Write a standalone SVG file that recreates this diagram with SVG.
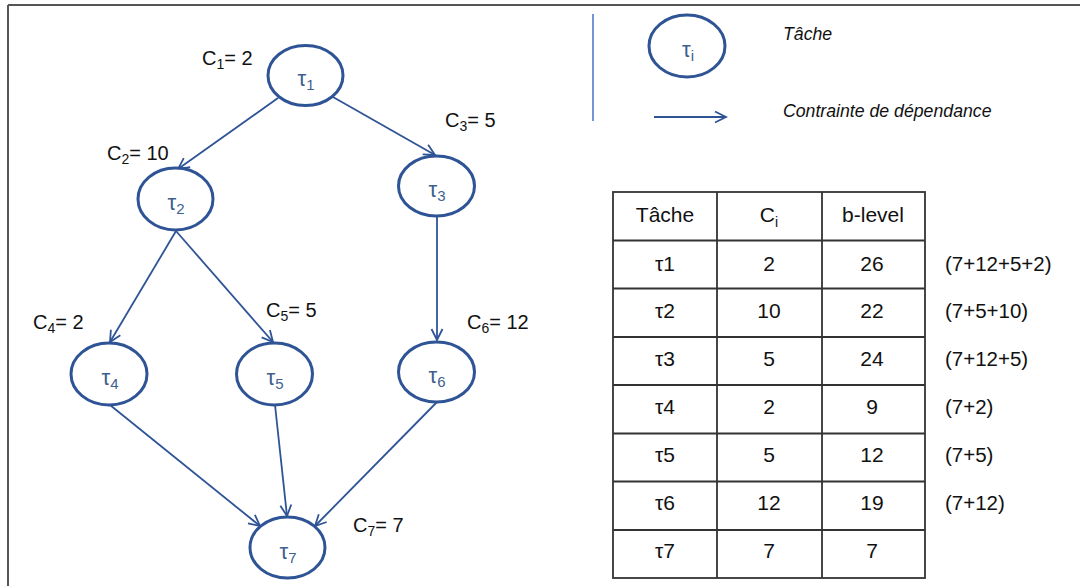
<svg xmlns="http://www.w3.org/2000/svg" width="1080" height="586" viewBox="0 0 1080 586">
<style>
.node{fill:#ffffff;stroke:#2F5496;stroke-width:3}
.ntxt{font-family:"Liberation Sans",Arial,sans-serif;font-size:22px;fill:#3F5F8F;text-anchor:middle}
.lbl{font-family:"Liberation Sans",Arial,sans-serif;font-size:20px;fill:#111}
.edge{stroke:#2F5496;stroke-width:1.8;fill:none;marker-end:url(#arr)}
.leg{font-family:"Liberation Sans",Arial,sans-serif;font-size:17.7px;font-style:italic;fill:#111}
.cell{fill:none;stroke:#333;stroke-width:1.8}
.tt{font-family:"Liberation Sans",Arial,sans-serif;font-size:21px;fill:#111;text-anchor:middle}
.ann{font-family:"Liberation Sans",Arial,sans-serif;font-size:20.5px;fill:#111}
</style>
<defs>
<marker id="arr" markerUnits="userSpaceOnUse" markerWidth="14" markerHeight="14" viewBox="0 0 14 14" refX="12" refY="7" orient="auto">
<path d="M1,1.5 L12,7 L1,12.5" fill="none" stroke="#2F5496" stroke-width="1.8"/>
</marker>
</defs>
<rect width="1080" height="586" fill="#ffffff"/>
<g id="frame" stroke="#555" stroke-width="2" fill="none">
<line x1="8" y1="5" x2="1080" y2="5"/>
<line x1="8" y1="5" x2="8" y2="586"/>
</g>
<g id="connectors">
<line class="edge" x1="278" y1="98" x2="178" y2="169"/>
<line class="edge" x1="333" y1="97" x2="435" y2="155"/>
<line class="edge" x1="176" y1="231" x2="110" y2="342"/>
<line class="edge" x1="176" y1="231" x2="273" y2="342"/>
<line class="edge" x1="437" y1="216" x2="437" y2="340"/>
<line class="edge" x1="110" y1="405" x2="260" y2="526"/>
<line class="edge" x1="275" y1="405" x2="287" y2="516"/>
<line class="edge" x1="437" y1="402" x2="315" y2="526"/>
</g>
<g id="t1"><ellipse class="node" cx="305.5" cy="75.5" rx="37.5" ry="30"/><text class="ntxt" x="306" y="86">τ<tspan font-size="15" dy="4">1</tspan></text></g>
<g id="t2"><ellipse class="node" cx="175.5" cy="199" rx="37.5" ry="31"/><text class="ntxt" x="176" y="210">τ<tspan font-size="15" dy="4">2</tspan></text></g>
<g id="t3"><ellipse class="node" cx="436.5" cy="186" rx="38" ry="30"/><text class="ntxt" x="437" y="197">τ<tspan font-size="15" dy="4">3</tspan></text></g>
<g id="t4"><ellipse class="node" cx="109" cy="374" rx="38" ry="31"/><text class="ntxt" x="110" y="385">τ<tspan font-size="15" dy="4">4</tspan></text></g>
<g id="t5"><ellipse class="node" cx="274.5" cy="374" rx="38" ry="31"/><text class="ntxt" x="275" y="385">τ<tspan font-size="15" dy="4">5</tspan></text></g>
<g id="t6"><ellipse class="node" cx="436.5" cy="372" rx="38" ry="30"/><text class="ntxt" x="437" y="383">τ<tspan font-size="15" dy="4">6</tspan></text></g>
<g id="t7"><ellipse class="node" cx="287.5" cy="547.5" rx="37.5" ry="30.5"/><text class="ntxt" x="288" y="559">τ<tspan font-size="15" dy="4">7</tspan></text></g>
<g id="labels">
<text class="lbl" x="202" y="65">C<tspan font-size="14" dy="4">1</tspan><tspan dy="-4">= 2</tspan></text>
<text class="lbl" x="107" y="160">C<tspan font-size="14" dy="4">2</tspan><tspan dy="-4">= 10</tspan></text>
<text class="lbl" x="445" y="127">C<tspan font-size="14" dy="4">3</tspan><tspan dy="-4">= 5</tspan></text>
<text class="lbl" x="33" y="329">C<tspan font-size="14" dy="4">4</tspan><tspan dy="-4">= 2</tspan></text>
<text class="lbl" x="266" y="317">C<tspan font-size="14" dy="4">5</tspan><tspan dy="-4">= 5</tspan></text>
<text class="lbl" x="467" y="329">C<tspan font-size="14" dy="4">6</tspan><tspan dy="-4">= 12</tspan></text>
<text class="lbl" x="353" y="532">C<tspan font-size="14" dy="4">7</tspan><tspan dy="-4">= 7</tspan></text>
</g>
<g id="legend">
<line x1="593" y1="14" x2="593" y2="121" stroke="#4472C4" stroke-width="1.5"/>
<g id="legend-node"><ellipse class="node" cx="687" cy="46" rx="38" ry="31"/><text class="ntxt" x="688" y="57">τ<tspan font-size="15" dy="4">i</tspan></text></g>
<line class="edge" x1="654" y1="117" x2="726" y2="117"/>
<text class="leg" x="783" y="40">Tâche</text>
<text class="leg" x="783" y="117">Contrainte de dépendance</text>
</g>
<g id="table">
<rect class="cell" x="613" y="192" width="312" height="386"/>
<line class="cell" x1="717" y1="192" x2="717" y2="578"/>
<line class="cell" x1="822" y1="192" x2="822" y2="578"/>
<line class="cell" x1="613" y1="240.5" x2="925" y2="240.5"/>
<line class="cell" x1="613" y1="288.5" x2="925" y2="288.5"/>
<line class="cell" x1="613" y1="337" x2="925" y2="337"/>
<line class="cell" x1="613" y1="385" x2="925" y2="385"/>
<line class="cell" x1="613" y1="433.5" x2="925" y2="433.5"/>
<line class="cell" x1="613" y1="481.5" x2="925" y2="481.5"/>
<line class="cell" x1="613" y1="530" x2="925" y2="530"/>
<text class="tt" x="665" y="222">Tâche</text>
<text class="tt" x="769" y="222">C<tspan font-size="14" dy="5">i</tspan></text>
<text class="tt" x="873" y="222">b-level</text>
<text class="tt" x="665" y="271">τ1</text><text class="tt" x="769" y="271">2</text><text class="tt" x="872" y="271">26</text>
<text class="tt" x="665" y="318">τ2</text><text class="tt" x="769" y="318">10</text><text class="tt" x="872" y="318">22</text>
<text class="tt" x="665" y="366">τ3</text><text class="tt" x="769" y="366">5</text><text class="tt" x="872" y="366">24</text>
<text class="tt" x="665" y="414">τ4</text><text class="tt" x="769" y="414">2</text><text class="tt" x="872" y="414">9</text>
<text class="tt" x="665" y="462">τ5</text><text class="tt" x="769" y="462">5</text><text class="tt" x="872" y="462">12</text>
<text class="tt" x="665" y="510">τ6</text><text class="tt" x="769" y="510">12</text><text class="tt" x="872" y="510">19</text>
<text class="tt" x="665" y="558">τ7</text><text class="tt" x="769" y="558">7</text><text class="tt" x="872" y="558">7</text>
<text class="ann" x="945" y="271">(7+12+5+2)</text>
<text class="ann" x="945" y="318">(7+5+10)</text>
<text class="ann" x="945" y="366">(7+12+5)</text>
<text class="ann" x="945" y="414">(7+2)</text>
<text class="ann" x="945" y="462">(7+5)</text>
<text class="ann" x="945" y="510">(7+12)</text>
</g>
</svg>
